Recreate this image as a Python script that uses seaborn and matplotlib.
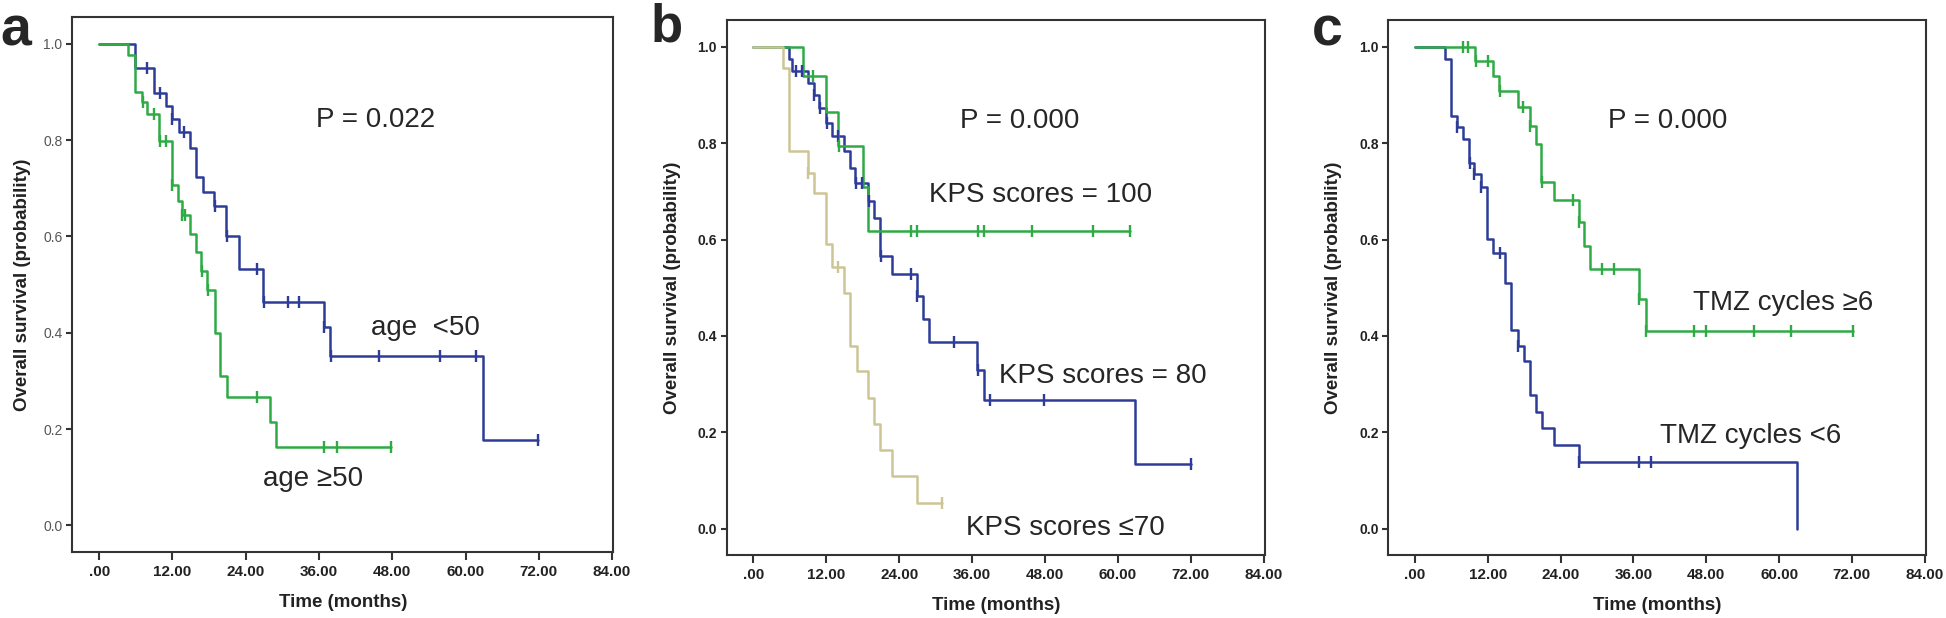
# -*- coding:utf-8 -*-
import numpy as np
import seaborn as sns
import matplotlib
matplotlib.use('Agg')
import matplotlib.pyplot as plt

# ---- data (months, survival) ----
# panel a: age
a_old_t = [0, 4.7, 5.8, 7.0, 7.9, 9.8, 11.9, 12.9, 13.5, 14.9, 15.9, 16.7, 17.6, 18.9, 19.8, 20.9, 28.0, 29.0]
a_old_s = [1.0, 0.976, 0.900, 0.878, 0.853, 0.798, 0.707, 0.674, 0.644, 0.605, 0.567, 0.529, 0.488, 0.400, 0.311, 0.266, 0.215, 0.162]
a_old_c = [7.1, 9.0, 10.0, 10.9, 12.0, 13.6, 14.1, 16.8, 17.9, 25.9, 36.8, 38.9, 47.8]
a_young_t = [0, 5.8, 9.0, 10.9, 11.9, 13.0, 14.9, 15.9, 17.0, 18.8, 20.8, 22.9, 26.9, 36.8, 37.8, 62.8]
a_young_s = [1.0, 0.949, 0.897, 0.870, 0.843, 0.816, 0.784, 0.723, 0.693, 0.664, 0.600, 0.533, 0.464, 0.412, 0.352, 0.177]
a_young_c = [7.9, 10.0, 12.0, 13.9, 18.9, 20.9, 25.9, 27.0, 31.0, 32.8, 36.9, 37.9, 45.9, 55.8, 61.7, 71.9]

# panel b: KPS scores
b_80_t = [0, 5.8, 6.4, 9.0, 9.9, 10.8, 12.0, 12.9, 14.9, 15.9, 16.8, 18.8, 19.8, 20.9, 22.8, 26.9, 27.9, 28.9, 36.8, 37.9, 62.9]
b_80_s = [1.0, 0.975, 0.951, 0.926, 0.900, 0.873, 0.843, 0.816, 0.785, 0.748, 0.718, 0.681, 0.644, 0.566, 0.528, 0.483, 0.436, 0.387, 0.330, 0.266, 0.133]
b_80_c = [7.0, 8.0, 10.0, 10.9, 12.05, 13.9, 16.9, 17.8, 19.0, 21.0, 25.9, 27.0, 33.0, 36.9, 38.9, 47.9, 72.0]
b_100_t = [0, 8.1, 12.0, 14.0, 18.0, 18.9]
b_100_s = [1.0, 0.939, 0.866, 0.795, 0.710, 0.617]
b_100_c = [9.8, 14.05, 26.0, 26.9, 37.0, 37.9, 45.8, 55.9, 62.0]
b_70_t = [0, 4.9, 5.8, 9.0, 10.0, 12.0, 12.9, 14.9, 15.9, 17.0, 18.8, 19.8, 20.9, 22.8, 26.9]
b_70_s = [1.0, 0.957, 0.783, 0.739, 0.696, 0.591, 0.543, 0.489, 0.379, 0.327, 0.271, 0.217, 0.164, 0.109, 0.054]
b_70_c = [9.05, 13.9, 31.1]

# panel c: TMZ cycles
c_lt6_t = [0, 4.9, 6.0, 6.9, 7.9, 8.9, 9.7, 10.8, 11.8, 12.9, 14.9, 15.9, 16.9, 17.9, 18.9, 20.0, 21.0, 22.9, 27.0, 63.0]
c_lt6_s = [1.0, 0.975, 0.857, 0.833, 0.809, 0.760, 0.736, 0.710, 0.601, 0.573, 0.509, 0.413, 0.380, 0.347, 0.278, 0.243, 0.209, 0.173, 0.139, 0.0]
c_lt6_c = [7.0, 9.0, 9.8, 10.9, 14.0, 17.0, 27.05, 36.9, 38.9]
c_ge6_t = [0, 9.9, 12.9, 13.9, 17.0, 18.9, 20.0, 20.8, 22.9, 27.0, 27.9, 28.9, 36.9, 38.0]
c_ge6_s = [1.0, 0.971, 0.940, 0.908, 0.875, 0.835, 0.798, 0.720, 0.682, 0.636, 0.587, 0.538, 0.477, 0.410]
c_ge6_c = [7.9, 8.8, 10.0, 12.0, 14.0, 17.8, 19.0, 20.9, 26.0, 27.05, 30.9, 32.8, 36.95, 38.05, 46.0, 47.9, 55.9, 61.9, 72.2]

x_ticks = [0, 12, 24, 36, 48, 60, 72, 84]
x_labels = ['.00', '12.00', '24.00', '36.00', '48.00', '60.00', '72.00', '84.00']
y_ticks = [0.0, 0.2, 0.4, 0.6, 0.8, 1.0]
y_labels = ['0.0', '0.2', '0.4', '0.6', '0.8', '1.0']

BLUE = '#2d3c98'
GREEN = '#2eab45'
TAN = '#cdc596'

sns.set_style('ticks')
plt.rcParams['font.family'] = ['Liberation Sans', 'DejaVu Sans']


def km_curve(ax, t, s, cens, color):
    t = list(t)
    s = list(s)
    end = max(t[-1], max(cens) if len(cens) else t[-1])
    xs = t + [end]
    ys = s + [s[-1]]
    sns.lineplot(x=xs, y=ys, drawstyle='steps-post', estimator=None, sort=False,
                 color=color, lw=1.8, ax=ax)
    # censored marks sit on the step level at their time
    idx = np.searchsorted(np.array(t), np.array(cens), side='right') - 1
    cy = np.array(s)[idx]
    sns.scatterplot(x=cens, y=cy, marker='|', s=70, linewidth=1.7, color=color, ax=ax, zorder=3)


def style_axes(ax, ylab_x, gray_y=False):
    ax.set_xlim(-4.4, 84.2)
    ax.set_ylim(-0.055, 1.056)
    ax.set_xticks(x_ticks)
    ax.set_xticklabels(x_labels, fontsize=11, fontweight='bold', color='#222222')
    ax.set_yticks(y_ticks)
    if gray_y:
        ax.set_yticklabels(y_labels, fontsize=10, color='#555555')
    else:
        ax.set_yticklabels(y_labels, fontsize=10, fontweight='bold', color='#222222')
    for sp in ax.spines.values():
        sp.set_visible(True)
        sp.set_linewidth(1.5)
        sp.set_color('#333333')
    ax.tick_params(axis='x', direction='out', length=6, width=1.5, color='#333333', pad=3.5)
    ax.tick_params(axis='y', direction='out', length=4, width=1.5, color='#333333', pad=3)
    ax.set_xlabel('Time (months)', fontsize=13.5, fontweight='bold', color='#222222')
    ax.set_ylabel('Overall survival (probability)', fontsize=13.5, fontweight='bold', color='#222222')
    ax.xaxis.set_label_coords(0.5, -0.094)
    ax.xaxis.label.set_va('center')
    ax.yaxis.set_label_coords(ylab_x, 0.5)
    ax.yaxis.label.set_va('center')


fig = plt.figure(figsize=(19.46, 6.18), dpi=100)
ax_a = fig.add_axes([0.03715, 0.1068, 0.2780, 0.8662])
ax_b = fig.add_axes([0.3734, 0.1019, 0.2766, 0.8657])
ax_c = fig.add_axes([0.7134, 0.1019, 0.2763, 0.8657])

# a
km_curve(ax_a, a_young_t, a_young_s, a_young_c, BLUE)
km_curve(ax_a, a_old_t, a_old_s, a_old_c, GREEN)
style_axes(ax_a, -0.092, gray_y=True)
ax_a.text(45.3, 0.841, 'P = 0.022', fontsize=20, ha='center', va='center')
ax_a.text(53.5, 0.41, 'age  <50', fontsize=20, ha='center', va='center')
ax_a.text(35.1, 0.096, 'age \u226550', fontsize=20, ha='center', va='center')

# b
km_curve(ax_b, b_80_t, b_80_s, b_80_c, BLUE)
km_curve(ax_b, b_100_t, b_100_s, b_100_c, GREEN)
km_curve(ax_b, b_70_t, b_70_s, b_70_c, TAN)
style_axes(ax_b, -0.100)
ax_b.text(43.8, 0.846, 'P = 0.000', fontsize=20, ha='center', va='center')
ax_b.text(47.2, 0.693, 'KPS scores = 100', fontsize=20, ha='center', va='center')
ax_b.text(57.5, 0.317, 'KPS scores = 80', fontsize=20, ha='center', va='center')
ax_b.text(51.4, 0.002, 'KPS scores \u226470', fontsize=20, ha='center', va='center')

# c
km_curve(ax_c, c_lt6_t, c_lt6_s, c_lt6_c, BLUE)
km_curve(ax_c, c_ge6_t, c_ge6_s, c_ge6_c, GREEN)
style_axes(ax_c, -0.102)
ax_c.text(41.7, 0.846, 'P = 0.000', fontsize=20, ha='center', va='center')
ax_c.text(60.6, 0.469, 'TMZ cycles \u22656', fontsize=20, ha='center', va='center')
ax_c.text(55.3, 0.192, 'TMZ cycles <6', fontsize=20, ha='center', va='center')

# panel letters
fig.text(0.0 / 1946, 1 - 45 / 618, 'a', fontsize=40, fontweight='bold', ha='left', va='baseline')
fig.text(651 / 1946, 1 - 41 / 618, 'b', fontsize=38, fontweight='bold', ha='left', va='baseline')
fig.text(1312 / 1946, 1 - 45.5 / 618, 'c', fontsize=40, fontweight='bold', ha='left', va='baseline')

fig.savefig('out.png', dpi=100)
plt.close(fig)
